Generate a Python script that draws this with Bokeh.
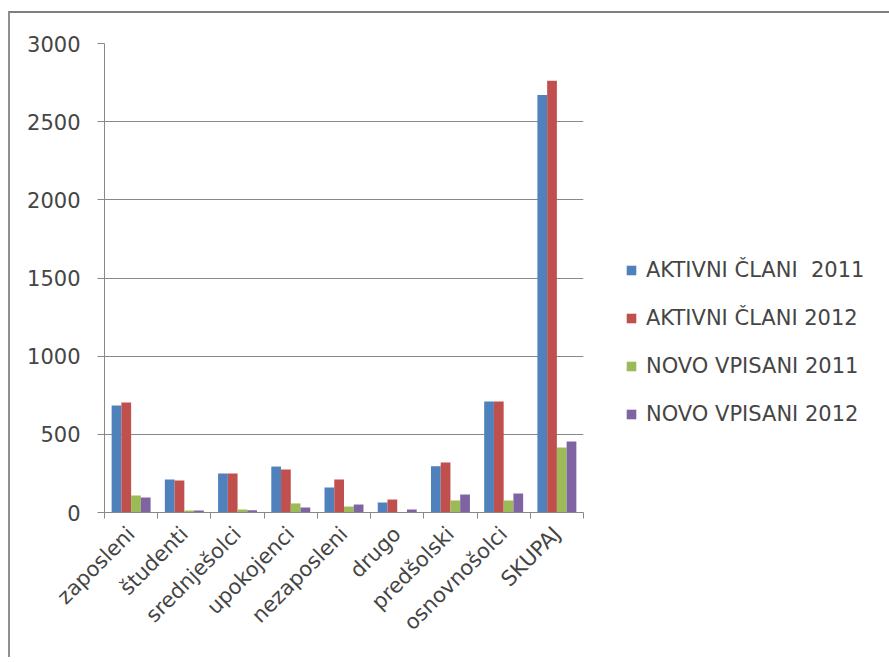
import numpy as np
from bokeh.plotting import figure
from bokeh.models import (Range1d, FixedTicker, Legend, LegendItem)
from bokeh.embed import file_html
from bokeh.resources import INLINE

categories = ["zaposleni", "študenti", "srednješolci", "upokojenci", "nezaposleni",
              "drugo", "predšolski", "osnovnošolci", "SKUPAJ"]
aktivni_2011 = [684, 211, 250, 294, 160, 64, 296, 710, 2671]
aktivni_2012 = [703, 205, 250, 275, 211, 83, 320, 710, 2762]
novo_2011 = [109, 13, 19, 58, 38, 3, 77, 77, 416]
novo_2012 = [96, 12, 15, 32, 51, 19, 115, 121, 454]
series_names = ["AKTIVNI ČLANI  2011", "AKTIVNI ČLANI 2012", "NOVO VPISANI 2011", "NOVO VPISANI 2012"]
series_values = [aktivni_2011, aktivni_2012, novo_2011, novo_2012]
colors = ["#4F81BD", "#C0504D", "#9BBB59", "#8064A2"]
y_ticks = [0, 500, 1000, 1500, 2000, 2500, 3000]

FONT = "DejaVu Sans"
TXT = "#454545"
GRID = "#888888"
FS = "21px"

p = figure(frame_width=479, frame_height=469, output_backend="svg", toolbar_location=None,
           x_range=Range1d(0, len(categories)), y_range=Range1d(0, 3000),
           min_border_left=94, min_border_top=30, min_border_right=296, min_border_bottom=145)
p.outline_line_color = None
p.background_fill_color = "white"
p.border_fill_color = "white"
p.styles = {"border-top": "2px solid #7f7f7f", "border-left": "2px solid #8f8f8f",
            "margin-top": "11px", "margin-left": "8px"}

bw = 0.183
centers = np.arange(len(categories)) + 0.5
items = []
for k, (name, vals, c) in enumerate(zip(series_names, series_values, colors)):
    off = (k - 1.5) * bw
    r = p.vbar(x=centers + off, top=vals, width=bw, bottom=0, fill_color=c, line_color=None)
    items.append(LegendItem(label=name, renderers=[r]))

# x axis: labels at centers, boundary ticks via minor ticks
p.xaxis.ticker = FixedTicker(ticks=list(centers), minor_ticks=list(range(len(categories) + 1)))
p.xaxis.major_label_overrides = {float(c): cat for c, cat in zip(centers, categories)}
p.xaxis.major_label_orientation = np.pi / 4
p.xaxis.major_tick_in = 0
p.xaxis.major_tick_out = 0
p.xaxis.minor_tick_in = 0
p.xaxis.minor_tick_out = 6
p.xaxis.minor_tick_line_color = GRID
p.xaxis.axis_line_color = GRID
p.xaxis.major_label_standoff = 12
p.xaxis.major_label_text_font = FONT
p.xaxis.major_label_text_font_size = FS
p.xaxis.major_label_text_color = TXT

p.yaxis.ticker = FixedTicker(ticks=y_ticks)
p.yaxis.minor_tick_line_color = None
p.yaxis.major_tick_in = 0
p.yaxis.major_tick_out = 7
p.yaxis.major_tick_line_color = GRID
p.yaxis.axis_line_color = GRID
p.yaxis.major_label_standoff = 17
p.yaxis.major_label_text_font = FONT
p.yaxis.major_label_text_font_size = FS
p.yaxis.major_label_text_color = TXT

p.xgrid.grid_line_color = None
p.ygrid.grid_line_color = GRID
p.ygrid.ticker = FixedTicker(ticks=y_ticks)

legend = Legend(items=items, location=(42, 86), orientation="vertical",
                border_line_color=None, background_fill_alpha=0,
                padding=0, margin=0, spacing=24, label_height=24,
                glyph_width=12, glyph_height=12, label_standoff=9,
                label_text_font=FONT, label_text_font_size=FS, label_text_color=TXT)
p.add_layout(legend, "right")

open("out.html", "w").write(file_html(p, INLINE))
